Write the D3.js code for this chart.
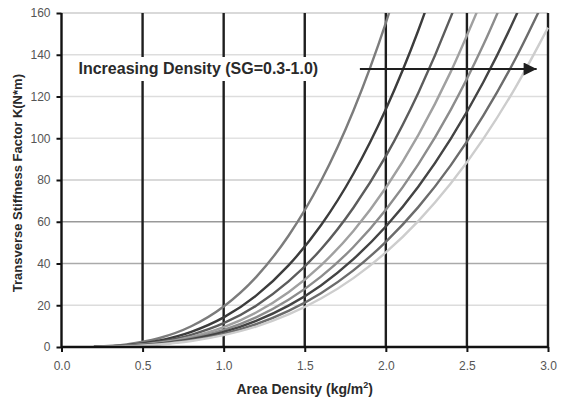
<!DOCTYPE html>
<html>
<head>
<meta charset="utf-8">
<script src="https://cdn.jsdelivr.net/npm/d3@7"></script>
<style>
  html, body { margin: 0; padding: 0; background: #fff; }
  svg { display: block; font-family: "Liberation Sans", Arial, sans-serif; }
</style>
</head>
<body>
<svg id="chart" width="565" height="403"></svg>
<script>
// area density samples (kg/m^2)
const areaDensity = [0.2, 0.4, 0.6, 0.8, 1.0, 1.2, 1.4, 1.6, 1.8, 2.0, 2.2, 2.4, 2.6, 2.8, 3.0];

// stiffness factor K (N*m), one list per specific gravity, lightest material first
const sg03 = [0.16, 1.24, 4.19, 9.94, 19.4, 33.5, 53.3, 79.5, 113.2, 155.3, 206.7];
const sg04 = [0.11, 0.91, 3.08, 7.29, 14.2, 24.6, 39.1, 58.3, 83.0, 113.9, 151.6, 196.9];
const sg05 = [0.09, 0.73, 2.47, 5.85, 11.4, 19.8, 31.4, 46.8, 66.7, 91.4, 121.7, 158.0, 200.9];
const sg06 = [0.08, 0.61, 2.06, 4.88, 9.5, 16.5, 26.2, 39.1, 55.6, 76.3, 101.5, 131.8, 167.6];
const sg07 = [0.07, 0.53, 1.78, 4.21, 8.2, 14.2, 22.6, 33.7, 47.9, 65.8, 87.5, 113.6, 144.5, 180.4];
const sg08 = [0.06, 0.46, 1.56, 3.69, 7.2, 12.5, 19.8, 29.5, 42.1, 57.7, 76.8, 99.7, 126.7, 158.3, 194.7];
const sg09 = [0.05, 0.40, 1.36, 3.22, 6.3, 10.9, 17.3, 25.8, 36.7, 50.4, 67.0, 87.0, 110.7, 138.2, 170.0];
const sg10 = [0.05, 0.36, 1.22, 2.90, 5.7, 9.8, 15.6, 23.2, 33.0, 45.3, 60.3, 78.3, 99.6, 124.4, 153.0];

const seriesList = [sg03, sg04, sg05, sg06, sg07, sg08, sg09, sg10];
const seriesColors = ["#7c7c7c", "#3c3c3c", "#5c5c5c", "#a0a0a0", "#8c8c8c", "#444444", "#6c6c6c", "#cdcdcd"];

const xTicks = [0, 0.5, 1.0, 1.5, 2.0, 2.5, 3.0];
const yTicks = [0, 20, 40, 60, 80, 100, 120, 140, 160];
const yGridColors = { 20: "#dcdcdc", 40: "#aaaaaa", 60: "#999999", 80: "#cccccc", 100: "#e2e2e2", 120: "#dddddd", 140: "#dddddd", 160: "#cccccc" };

const svg = d3.select("#chart");
const margin = { top: 13, right: 17, bottom: 56, left: 61.5 };
const width = 565 - margin.left - margin.right;
const height = 403 - margin.top - margin.bottom;

const x = d3.scaleLinear().domain([0, 3]).range([0, width]);
const y = d3.scaleLinear().domain([0, 160]).range([height, 0]);

const g = svg.append("g").attr("transform", `translate(${margin.left},${margin.top})`);

g.append("defs").append("clipPath").attr("id", "plot-clip")
  .append("rect").attr("x", -2).attr("y", 0).attr("width", width + 4).attr("height", height);

// horizontal grid
g.append("g")
  .selectAll("line")
  .data(yTicks.filter(d => d > 0))
  .enter()
  .append("line")
  .attr("x1", 0)
  .attr("x2", x(3))
  .attr("y1", d => y(d))
  .attr("y2", d => y(d))
  .attr("stroke", d => yGridColors[d])
  .attr("stroke-width", 1.3);

// heavy vertical grid
g.append("g")
  .selectAll("line")
  .data(xTicks.filter(d => d > 0))
  .enter()
  .append("line")
  .attr("x1", d => x(d))
  .attr("x2", d => x(d))
  .attr("y1", y(160))
  .attr("y2", y(0))
  .attr("stroke", "#1e1e1e")
  .attr("stroke-width", 2.4);

// curves
const line = d3.line()
  .x((d, i) => x(areaDensity[i]))
  .y(d => y(d))
  .curve(d3.curveMonotoneX);

g.append("g")
  .attr("clip-path", "url(#plot-clip)")
  .selectAll("path")
  .data(seriesList)
  .enter()
  .append("path")
  .attr("fill", "none")
  .attr("stroke", (d, i) => seriesColors[i])
  .attr("stroke-width", 2.4)
  .attr("d", line);

// annotation with white backing over the grid
g.append("rect")
  .attr("x", 13)
  .attr("y", 44)
  .attr("width", 256)
  .attr("height", 24)
  .attr("fill", "#fff");

g.append("text")
  .attr("x", 17)
  .attr("y", 61)
  .attr("font-size", 16)
  .attr("font-weight", "bold")
  .attr("fill", "#2a2a2a")
  .text("Increasing Density (SG=0.3-1.0)");

g.append("defs").append("marker")
  .attr("id", "arrowhead")
  .attr("viewBox", "0 0 10 10")
  .attr("refX", 10)
  .attr("refY", 5)
  .attr("markerUnits", "userSpaceOnUse")
  .attr("markerWidth", 17)
  .attr("markerHeight", 13)
  .attr("orient", "auto")
  .append("path")
  .attr("d", "M0,0 L10,5 L0,10 Z")
  .attr("fill", "#1e1e1e");

g.append("line")
  .attr("x1", x(1.84))
  .attr("x2", x(2.93))
  .attr("y1", 56)
  .attr("y2", 56)
  .attr("stroke", "#1e1e1e")
  .attr("stroke-width", 2)
  .attr("marker-end", "url(#arrowhead)");

// axes
const yAxis = g.append("g")
  .call(d3.axisLeft(y).tickValues(yTicks).tickSize(5).tickPadding(6));
const xAxis = g.append("g")
  .attr("transform", `translate(0,${height})`)
  .call(d3.axisBottom(x).tickValues(xTicks).tickSize(5).tickPadding(9).tickFormat(d3.format(".1f")));

[yAxis, xAxis].forEach(ax => {
  ax.select(".domain").attr("stroke", "#111").attr("stroke-width", 2.4);
  ax.selectAll(".tick line").attr("stroke", "#111").attr("stroke-width", 2);
  ax.selectAll(".tick text")
    .attr("font-size", 12)
    .attr("fill", "#555")
    .attr("font-family", "'Liberation Sans', Arial, sans-serif");
});
yAxis.select(".domain").attr("d", `M0,${y(160)}V${y(0)}`);
xAxis.select(".domain").attr("d", `M0,0H${x(3)}`);

// axis titles
const xTitle = g.append("text")
  .attr("x", x(1.5))
  .attr("y", height + 47)
  .attr("text-anchor", "middle")
  .attr("font-size", 14)
  .attr("font-weight", "bold")
  .attr("fill", "#2a2a2a");
xTitle.append("tspan").text("Area Density (kg/m");
xTitle.append("tspan").attr("font-size", 9).attr("dy", -6).text("2");
xTitle.append("tspan").attr("dy", 6).text(")");

g.append("text")
  .attr("transform", `translate(${-40},${y(78.5)}) rotate(-90)`)
  .attr("text-anchor", "middle")
  .attr("font-size", 13)
  .attr("font-weight", "bold")
  .attr("fill", "#2a2a2a")
  .text("Transverse Stiffness Factor K(N*m)");
</script>
</body>
</html>
